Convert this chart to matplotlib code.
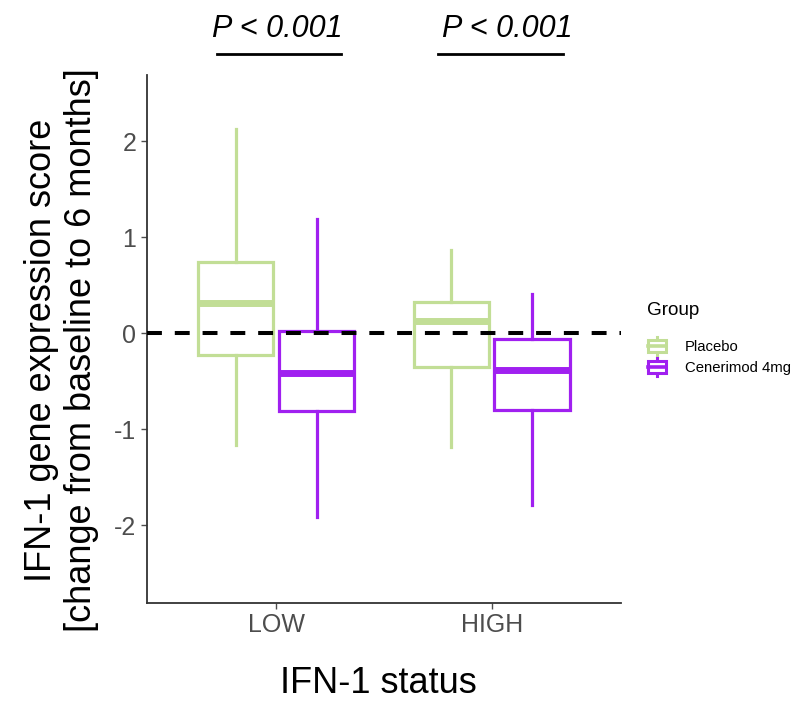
import matplotlib
matplotlib.use('Agg')
import matplotlib.pyplot as plt
from matplotlib.patches import Patch, Rectangle
from matplotlib.lines import Line2D
from matplotlib.legend_handler import HandlerBase

plt.rcParams['font.family'] = ['Liberation Sans', 'DejaVu Sans']

# data
categories = ['LOW', 'HIGH']
groups = ['Placebo', 'Cenerimod 4mg']
colors = {'Placebo': '#C2DE96', 'Cenerimod 4mg': '#A020F0'}

# per group, per category: lower whisker, Q1, median, Q3, upper whisker
whislo = {'Placebo': [-1.16, -1.19], 'Cenerimod 4mg': [-1.92, -1.79]}
q1 = {'Placebo': [-0.23, -0.35], 'Cenerimod 4mg': [-0.81, -0.80]}
med = {'Placebo': [0.31, 0.13], 'Cenerimod 4mg': [-0.42, -0.385]}
q3 = {'Placebo': [0.74, 0.33], 'Cenerimod 4mg': [0.02, -0.06]}
whishi = {'Placebo': [2.13, 0.87], 'Cenerimod 4mg': [1.19, 0.41]}

pvals = ['P < 0.001', 'P < 0.001']


class BoxKey(HandlerBase):
    def create_artists(self, legend, orig_handle, xdescent, ydescent,
                       width, height, fontsize, trans):
        c = orig_handle.get_edgecolor()
        x0, y0 = -xdescent, -ydescent
        bw = width * 0.85
        bx = x0 + (width - bw) / 2
        bh = height * 0.66
        by = y0 + (height - bh) / 2
        rect = Rectangle((bx, by), bw, bh, facecolor='white', edgecolor=c,
                         lw=2.2, transform=trans)
        mid = Line2D([bx, bx + bw], [y0 + height / 2] * 2, color=c, lw=2.6,
                     transform=trans)
        cx = x0 + width / 2
        top = Line2D([cx, cx], [by + bh, y0 + height], color=c, lw=2.2,
                     transform=trans)
        bot = Line2D([cx, cx], [y0, by], color=c, lw=2.2, transform=trans)
        return [top, bot, rect, mid]


fig = plt.figure(figsize=(7.94, 7.01), dpi=100)
ax = fig.add_axes([0.185, 0.14, 0.597, 0.753])

offsets = {'Placebo': -0.1875, 'Cenerimod 4mg': 0.1875}
for g in groups:
    stats = []
    for i in range(len(categories)):
        stats.append({'whislo': whislo[g][i], 'q1': q1[g][i], 'med': med[g][i],
                      'q3': q3[g][i], 'whishi': whishi[g][i], 'fliers': []})
    pos = [i + 1 + offsets[g] for i in range(len(categories))]
    c = colors[g]
    ax.bxp(stats, positions=pos, widths=0.35, showcaps=False,
           patch_artist=True,
           boxprops=dict(facecolor='white', edgecolor=c, linewidth=2.3),
           whiskerprops=dict(color=c, linewidth=2.3),
           medianprops=dict(color=c, linewidth=5, solid_capstyle='butt'),
           zorder=2)

ax.axhline(0, color='black', lw=2.9, ls=(0, (3.7, 3.2)), zorder=3)

ax.set_xlim(0.4, 2.6)
ax.set_ylim(-2.81, 2.69)
ax.set_xticks([1, 2])
ax.set_xticklabels(categories)
ax.set_yticks([-2, -1, 0, 1, 2])
ax.set_yticklabels(['-2', '-1', '0', '1', '2'])
ax.tick_params(labelsize=18, colors='#4D4D4D', length=4, width=1)
for s in ['top', 'right']:
    ax.spines[s].set_visible(False)
for s in ['left', 'bottom']:
    ax.spines[s].set_color('#333333')
    ax.spines[s].set_linewidth(1.3)

ax.set_xlabel('IFN-1 status', fontsize=26, va='baseline')
ax.xaxis.set_label_coords(0.489, -0.1705)
ax.set_ylabel('IFN-1 gene expression score\n[change from baseline to 6 months]',
              fontsize=26, linespacing=1.15)
ax.yaxis.set_label_coords(-0.102, 0.479)

# significance annotations above the panel
line_spans = [(0.726, 1.302), (1.753, 2.330)]
text_x = [1.005, 2.074]
for p, (a, b), tx in zip(pvals, line_spans, text_x):
    ax.plot([a, b], [2.905, 2.905], color='black', lw=2, clip_on=False)
    ax.text(tx, 3.17, p, fontsize=22, style='italic', ha='center',
            va='center', clip_on=False)

handles = [Patch(facecolor='white', edgecolor=colors[g], label=g) for g in groups]
leg = ax.legend(handles=handles, title='Group', frameon=False,
                handler_map={Patch: BoxKey()}, fontsize=10.7,
                title_fontsize=13.6, loc='center left',
                bbox_to_anchor=(1.055, 0.5), borderaxespad=0, borderpad=0,
                handlelength=1.35, handleheight=1.45, labelspacing=0.25,
                handletextpad=1.2)
leg._legend_box.align = 'left'
leg._legend_box.sep = 13

fig.savefig('out.png', dpi=100)
